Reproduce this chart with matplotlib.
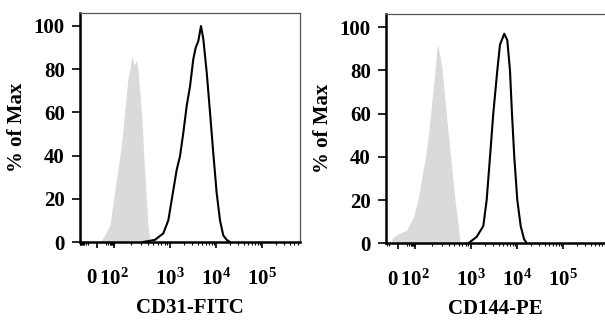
import numpy as np
import matplotlib.pyplot as plt
from matplotlib.ticker import FixedLocator, FixedFormatter

plt.rcParams['font.family'] = ['Liberation Serif', 'DejaVu Serif']
plt.rcParams['font.weight'] = 'bold'
plt.rcParams['mathtext.fontset'] = 'custom'
plt.rcParams['mathtext.default'] = 'bf'
plt.rcParams['mathtext.bf'] = 'Liberation Serif:bold'
plt.rcParams['mathtext.rm'] = 'Liberation Serif:bold'

# isotype control (grey) and stained sample (black), % of max vs intensity
cd31_iso_x = [2, 5, 15, 34, 76, 109, 128, 145, 157, 178, 193, 207, 228, 254, 268, 313, 343, 384, 405, 439]
cd31_iso_y = [0, 2, 5, 8, 18, 28, 40, 52, 62, 76, 80, 86, 82, 84, 80, 58, 38, 18, 8, 0]
cd31_x = [330, 540, 759, 933, 1089, 1400, 1650, 1946, 2306, 2722, 3215, 3624, 4125, 4720,
          5297, 6281, 7410, 8740, 10350, 12220, 14420, 17100, 20140]
cd31_y = [0, 1, 4, 10, 19.5, 33.5, 39.7, 50.5, 63, 72, 84.7, 90, 93, 100,
          94, 78.5, 60, 41, 22.6, 10, 3, 1, 0]

cd144_iso_x = [-6, -5, -3, 1, 10, 63, 115, 141, 151, 173, 199, 212, 228, 244, 254, 300, 368, 452, 518, 593, 637]
cd144_iso_y = [0, 2, 3, 4.6, 6, 12, 21, 35, 38, 50, 65, 72, 80, 90, 92, 82, 58, 35, 20, 8, 0]
cd144_x = [895, 1330, 1850, 2190, 2590, 3050, 3730, 4270, 5300, 6150, 7040, 7780, 8730,
           10160, 12030, 14200, 16300]
cd144_y = [0, 3, 8, 20, 40, 60, 80, 92, 97, 94, 80, 60, 40, 20, 8, 2, 0]

major_ticks = [0, 1e2, 1e3, 1e4, 1e5]
major_labels = ['0', '$10^{2}$', '$10^{3}$', '$10^{4}$', '$10^{5}$']

# logicle-like axis: linear-ish near zero, log above
LN10 = np.log(10)
Y_ANCH = [-3, 0, 2, 3, 4, 5, 7]
P_ANCH = [-25.5, 0, 17, 73, 119, 165, 257]


def fwd(x):
    y = np.arcsinh(np.asarray(x, float) / 2) / LN10
    return np.interp(y, Y_ANCH, P_ANCH)


def inv(p):
    y = np.interp(p, P_ANCH, Y_ANCH)
    return 2 * np.sinh(y * LN10)


minor = [-k for k in range(10, 101, 10)] + list(range(10, 100, 10))
for d in [100, 1000, 10000, 100000]:
    minor += [m * d for m in range(2, 10)]

fig = plt.figure(figsize=(6.05, 3.2), dpi=100)
ax1 = fig.add_axes([80/605, 78/320, 220/605, 229/320])
ax2 = fig.add_axes([386/605, 76.7/320, 219/605, 229/320])

panels = [
    (ax1, cd31_iso_x, cd31_iso_y, cd31_x, cd31_y, 'CD31-FITC', (-100, 6.7e5)),
    (ax2, cd144_iso_x, cd144_iso_y, cd144_x, cd144_y, 'CD144-PE', (-26, 8.2e5)),
]

for ax, ix, iy, sx, sy, lab, xl in panels:
    ax.set_xscale('function', functions=(fwd, inv))
    ax.fill_between(ix, iy, 0, color='#dadada', lw=0)
    ax.plot(sx, sy, color='black', lw=1.5)
    ax.set_xlim(*xl)
    ax.set_ylim(0, 106)
    ax.xaxis.set_major_locator(FixedLocator(major_ticks))
    ax.xaxis.set_major_formatter(FixedFormatter(major_labels))
    ax.xaxis.set_minor_locator(FixedLocator(minor))
    ax.set_yticks([0, 20, 40, 60, 80, 100])
    ax.tick_params(axis='x', which='major', length=4, width=1.2, pad=15, labelsize=15)
    ax.tick_params(axis='x', which='minor', length=2.5, width=0.8)
    ax.tick_params(axis='y', which='major', length=6, width=1.2, pad=5, labelsize=15)
    ax.set_xlabel(lab, fontsize=15, fontweight='bold')
    ax.xaxis.set_label_coords(0.5, -0.245)
    ax.set_ylabel('% of Max', fontsize=15, fontweight='bold')
    ax.yaxis.set_label_coords(-0.24, 0.5)
    for s in ['left', 'bottom']:
        ax.spines[s].set_linewidth(1.8)
    for s in ['top', 'right']:
        ax.spines[s].set_linewidth(0.9)
        ax.spines[s].set_color('#555555')
    # FlowJo style: "0" sits just left of its tick so it clears 10^2
    zero_tick = ax.xaxis.get_major_ticks()[0]
    zero_tick.label1.set_horizontalalignment('right')

ax2.spines['right'].set_visible(False)

fig.savefig('out.png', dpi=100)
